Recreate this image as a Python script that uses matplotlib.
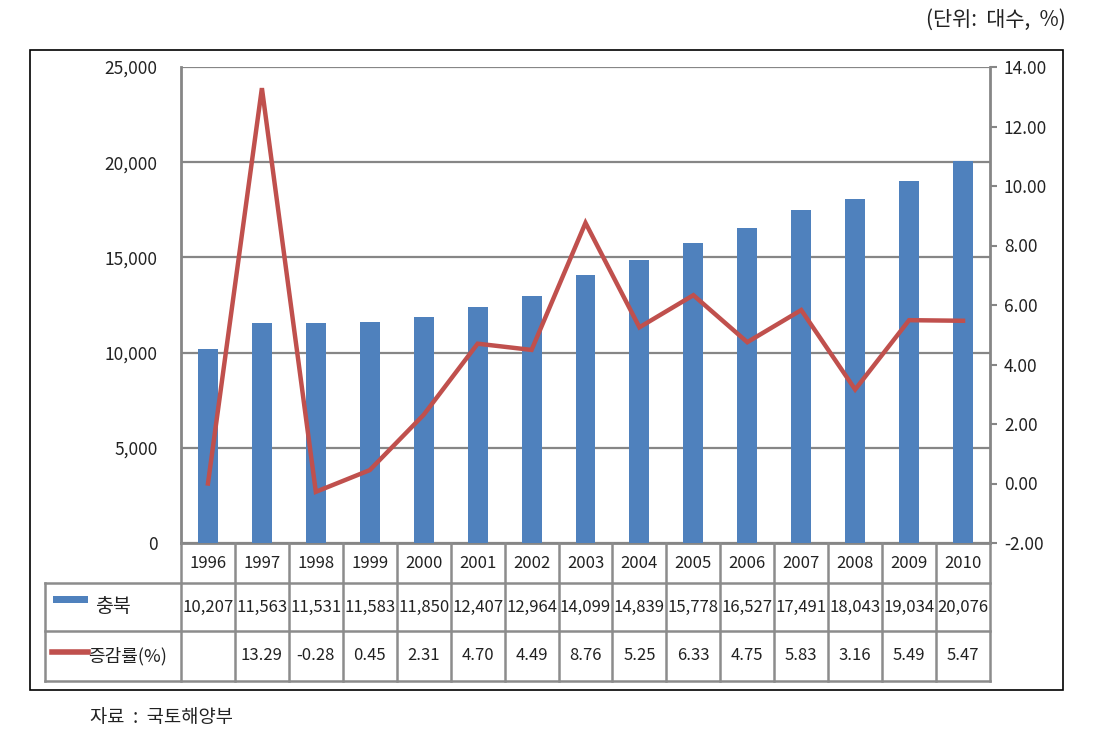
import matplotlib
matplotlib.use("Agg")
import matplotlib.pyplot as plt
from matplotlib.lines import Line2D
from matplotlib.patches import Rectangle
from matplotlib.ticker import FuncFormatter

plt.rcParams['font.family'] = ['Noto Sans CJK KR', 'DejaVu Sans']

years = [1996, 1997, 1998, 1999, 2000, 2001, 2002, 2003, 2004,
         2005, 2006, 2007, 2008, 2009, 2010]
counts = [10207, 11563, 11531, 11583, 11850, 12407, 12964, 14099, 14839,
          15778, 16527, 17491, 18043, 19034, 20076]
# 1996 has no rate in the table, but the line starts at 0
rates = [0.00, 13.29, -0.28, 0.45, 2.31, 4.70, 4.49, 8.76, 5.25,
         6.33, 4.75, 5.83, 3.16, 5.49, 5.47]
rate_labels = [""] + ["%.2f" % r for r in rates[1:]]

bar_color = "#4F81BD"
line_color = "#C0504D"
grid_color = "#868686"
table_color = "#8C8C8C"
txt = "#222222"

W, H = 1101, 737
def fx(px):
    return px / W
def fy(py):
    return 1 - py / H

fig = plt.figure(figsize=(W / 100, H / 100), dpi=100)

# outer frame
fig.add_artist(Rectangle((fx(30), fy(690)), fx(1063) - fx(30), (690 - 50) / H,
                         transform=fig.transFigure, fill=False, lw=1.2, ec="black"))

left_px, right_px, top_px, bot_px = 181, 990, 67, 543
ax = fig.add_axes([fx(left_px), fy(bot_px), fx(right_px) - fx(left_px), (bot_px - top_px) / H])
x = list(range(len(years)))
ax.bar(x, counts, width=0.37, color=bar_color, zorder=3)
ax.set_xlim(-0.5, len(years) - 0.5)
ax.set_ylim(0, 25000)
ax.set_yticks(range(0, 25001, 5000))
ax.yaxis.set_major_formatter(FuncFormatter(lambda v, p: "{:,}".format(int(v))))
ax.yaxis.grid(True, color=grid_color, lw=1.6, zorder=0)
ax.set_axisbelow(True)
ax.set_xticks([])
ax.tick_params(axis="y", length=0, pad=17, labelsize=12.5, labelcolor=txt)
for s in ["top", "right"]:
    ax.spines[s].set_visible(False)
ax.spines["left"].set_color(grid_color)
ax.spines["left"].set_linewidth(2)
ax.spines["bottom"].set_color(grid_color)
ax.spines["bottom"].set_linewidth(2)

ax2 = ax.twinx()
ax2.plot(x, rates, color=line_color, lw=3.2, solid_joinstyle="miter", zorder=4)
ax2.set_ylim(-2, 14)
ax2.set_yticks(range(-2, 15, 2))
ax2.yaxis.set_major_formatter(FuncFormatter(lambda v, p: "%.2f" % v))
ax2.tick_params(axis="y", direction="out", length=5, width=1.5, color=grid_color,
                pad=5, labelsize=12.5, labelcolor=txt)
for s in ["top", "left", "bottom"]:
    ax2.spines[s].set_visible(False)
ax2.spines["right"].set_color(grid_color)
ax2.spines["right"].set_linewidth(2)

# data table below the plot
n = len(years)
col_w = (right_px - left_px) / n
edges = [left_px + i * col_w for i in range(n + 1)]
rows = [543, 583, 631, 681]
tbl_left = 45

def hline(y, x0, x1):
    fig.add_artist(Line2D([fx(x0), fx(x1)], [fy(y), fy(y)], transform=fig.transFigure,
                          color=table_color, lw=1.8))

def vline(xp, y0, y1):
    fig.add_artist(Line2D([fx(xp), fx(xp)], [fy(y0), fy(y1)], transform=fig.transFigure,
                          color=table_color, lw=1.8))

hline(rows[1], tbl_left, right_px)
hline(rows[2], tbl_left, right_px)
hline(rows[3], tbl_left, right_px)
for e in edges:
    vline(e, rows[0], rows[3])
vline(tbl_left, rows[1], rows[3])

for i in range(n):
    cx = fx((edges[i] + edges[i + 1]) / 2)
    fig.text(cx, fy((rows[0] + rows[1]) / 2), str(years[i]), ha="center", va="center",
             fontsize=12, color=txt)
    fig.text(cx, fy((rows[1] + rows[2]) / 2), "{:,}".format(counts[i]), ha="center",
             va="center", fontsize=12, color=txt)
    fig.text(cx, fy((rows[2] + rows[3]) / 2), rate_labels[i], ha="center", va="center",
             fontsize=12, color=txt)

# legend keys inside the table
fig.add_artist(Rectangle((fx(53), fy(603)), fx(88) - fx(53), 7 / H, transform=fig.transFigure,
                         color=bar_color, lw=0))
fig.text(fx(95), fy(606), "충북", ha="left", va="center", fontsize=14, color=txt)
fig.add_artist(Line2D([fx(52), fx(88)], [fy(652), fy(652)], transform=fig.transFigure,
                      color=line_color, lw=4))
fig.text(fx(88), fy(656), "증감률(%)", ha="left", va="center", fontsize=13, color=txt)

fig.text(fx(1066), fy(20), "(단위:  대수,  %)", ha="right", va="center", fontsize=15,
         color=txt)
fig.text(fx(90), fy(717), "자료  :  국토해양부", ha="left", va="center", fontsize=13.5,
         color=txt)

plt.savefig("out.png", dpi=100)
